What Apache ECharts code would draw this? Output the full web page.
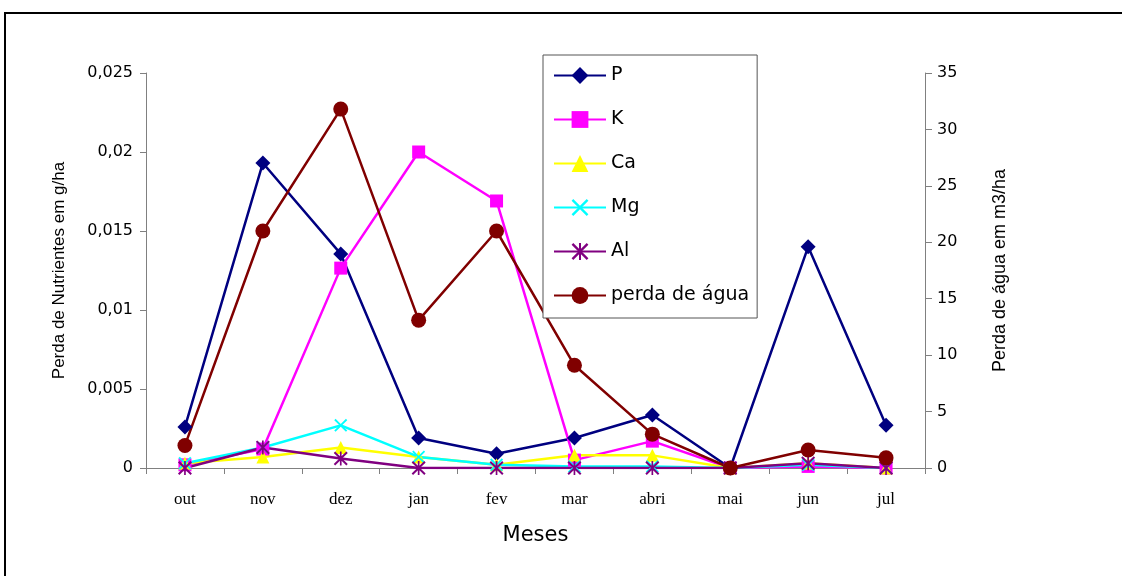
<!DOCTYPE html>
<html>
<head>
<meta charset="utf-8">
<script src="https://cdn.jsdelivr.net/npm/echarts@6/dist/echarts.min.js"></script>
<style>
html,body{margin:0;padding:0;background:#fff;}
#chart{width:1122px;height:576px;}
</style>
</head>
<body>
<div id="chart"></div>
<script>
const months = ['out','nov','dez','jan','fev','mar','abri','mai','jun','jul'];
const P  = [0.0026, 0.0193, 0.01355, 0.0019, 0.0009, 0.0019, 0.00335, 0, 0.014, 0.0027];
const K  = [0.0002, 0.0012, 0.01265, 0.0200, 0.0169, 0.0005, 0.0017, 0, 0.0001, 0];
const Ca = [0.0003, 0.0007, 0.0013, 0.0007, 0.0002, 0.0008, 0.0008, 0, 0.0003, 0];
const Mg = [0.0003, 0.0013, 0.0027, 0.0007, 0.0002, 0.0001, 0.0001, 0, 0.0002, 0];
const Al = [0, 0.0013, 0.0006, 0, 0, 0, 0, 0, 0.0003, 0];
const agua = [2.0, 21.0, 31.8, 13.1, 21.0, 9.1, 3.0, 0, 1.6, 0.9];
const leftTicks = {min: 0, max: 0.025, interval: 0.005};
const rightTicks = {min: 0, max: 35, interval: 5};

const xPath = 'path://M0,1 L1,0 L5,4 L9,0 L10,1 L6,5 L10,9 L9,10 L5,6 L1,10 L0,9 L4,5 Z';
const starPath = 'path://M0,1 L1,0 L5,4 L9,0 L10,1 L6,5 L10,9 L9,10 L5,6 L1,10 L0,9 L4,5 Z M4.4,0 L5.6,0 L5.6,10 L4.4,10 Z';

function mk(name, data, color, symbol, size, yIdx) {
  return {
    name, type: 'line', data, yAxisIndex: yIdx || 0,
    symbol, symbolSize: size, showAllSymbol: true,
    lineStyle: {color, width: 2.5},
    itemStyle: {color},
    emphasis: {disabled: true},
    animation: false
  };
}

const sans = 'DejaVu Sans';
const chart = echarts.init(document.getElementById('chart'));
chart.setOption({
  animation: false,
  backgroundColor: '#fff',
  graphic: [{
    type: 'rect', shape: {x: 5, y: 13, width: 1200, height: 700},
    style: {fill: 'none', stroke: '#000', lineWidth: 2}, z: -1
  }],
  grid: {left: 146, right: 197, top: 73, bottom: 108},
  legend: {
    orient: 'vertical', left: 543, top: 55,
    padding: [11, 8, 13, 10],
    itemWidth: 52, itemHeight: 21, itemGap: 25,
    backgroundColor: '#fff', borderColor: '#555', borderWidth: 1,
    textStyle: {fontFamily: sans, fontSize: 19, color: '#000'},
    data: ['P','K','Ca','Mg','Al','perda de água']
  },
  xAxis: {
    type: 'category', data: months, boundaryGap: true,
    name: 'Meses', nameLocation: 'middle', nameGap: 57,
    nameTextStyle: {fontFamily: sans, fontSize: 21, color: '#000'},
    axisLine: {lineStyle: {color: '#808080', width: 1}},
    axisTick: {show: true, length: 6, alignWithLabel: false, lineStyle: {color: '#808080'}},
    axisLabel: {fontFamily: 'Liberation Serif', fontSize: 17, color: '#000', margin: 23}
  },
  yAxis: [{
    type: 'value', min: leftTicks.min, max: leftTicks.max, interval: leftTicks.interval,
    position: 'left',
    name: 'Perda de Nutrientes em g/ha', nameLocation: 'middle', nameGap: 78, nameRotate: 90,
    nameTextStyle: {fontFamily: 'Liberation Sans', fontSize: 17, color: '#000'},
    splitLine: {show: false},
    axisLine: {show: true, lineStyle: {color: '#808080'}},
    axisTick: {show: true, length: 6, lineStyle: {color: '#808080'}},
    axisLabel: {fontFamily: sans, fontSize: 16, color: '#000', margin: 13,
      formatter: v => v === 0 ? '0' : String(Number(v.toFixed(3))).replace('.', ',')}
  },{
    type: 'value', min: rightTicks.min, max: rightTicks.max, interval: rightTicks.interval,
    position: 'right',
    name: 'Perda de água em m3/ha', nameLocation: 'middle', nameGap: 66, nameRotate: 90,
    nameTextStyle: {fontFamily: 'Liberation Sans', fontSize: 18, color: '#000'},
    splitLine: {show: false},
    axisLine: {show: true, lineStyle: {color: '#808080'}},
    axisTick: {show: true, length: 7, lineStyle: {color: '#808080'}},
    axisLabel: {fontFamily: sans, fontSize: 16, color: '#000', margin: 12}
  }],
  series: [
    mk('P', P, '#000080', 'diamond', 15),
    mk('K', K, '#FF00FF', 'rect', 13),
    mk('Ca', Ca, '#FFFF00', 'triangle', 13),
    mk('Mg', Mg, '#00FFFF', xPath, 13),
    mk('Al', Al, '#800080', starPath, 14),
    mk('perda de água', agua, '#800000', 'circle', 15, 1)
  ]
});
</script>
</body>
</html>
